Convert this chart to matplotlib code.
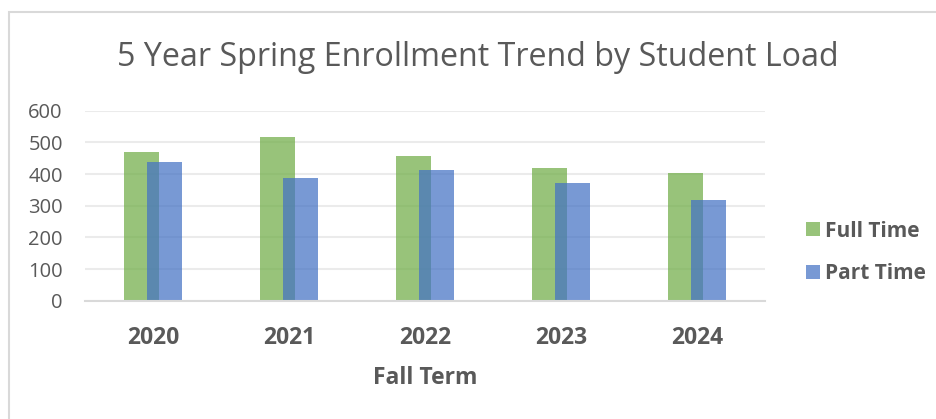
import numpy as np
import matplotlib
matplotlib.use("Agg")
import matplotlib.pyplot as plt
from matplotlib.patches import Rectangle, Patch

# data
years = ["2020", "2021", "2022", "2023", "2024"]
full_time = [469, 517, 458, 420, 403]
part_time = [437, 387, 412, 372, 319]

green = "#70AD47"
blue = "#4472C4"
text_col = "#595959"

plt.rcParams['font.family'] = ['Open Sans', 'DejaVu Sans']

fig = plt.figure(figsize=(9.36, 4.19), dpi=100)
ax = fig.add_axes([85/936, 1 - 300.7/419, 680/936, 190/419])

x = np.arange(len(years))
w = 0.257
off = 0.085
ax.bar(x - off, full_time, width=w, color=green, alpha=0.72, zorder=2)
ax.bar(x + off, part_time, width=w, color=blue, alpha=0.72, zorder=3)

ax.set_xlim(-0.5, len(years) - 0.5)
ax.set_ylim(0, 600)
ax.set_yticks(range(0, 601, 100))
ax.set_xticks(x)
ax.set_xticklabels(years, fontsize=16.5, fontweight='bold', color=text_col)
ax.tick_params(axis='y', labelsize=14.5, labelcolor=text_col, length=0, pad=16)
ax.tick_params(axis='x', length=0, pad=18)
ax.grid(axis='y', color='#EBEBEB', lw=1.5, zorder=0)
ax.set_axisbelow(True)
for s in ['top', 'right', 'left']:
    ax.spines[s].set_visible(False)
ax.spines['bottom'].set_color('#D9D9D9')
ax.spines['bottom'].set_linewidth(1.5)
ax.spines['bottom'].set_zorder(4)

ax.set_xlabel("Fall Term", fontsize=16.5, fontweight='bold', color=text_col, labelpad=12)

fig.text(478/936, 1 - 57/419, "5 Year Spring Enrollment Trend by Student Load",
         ha='center', va='center', fontsize=23.2, color=text_col)

handles = [Patch(facecolor=green, alpha=0.72, edgecolor='none'),
           Patch(facecolor=blue, alpha=0.72, edgecolor='none')]
leg = fig.legend(handles, ["Full Time", "Part Time"], loc='center left',
                 bbox_to_anchor=(806/936, 1 - 252.5/419), frameon=False,
                 borderpad=0, borderaxespad=0, handlelength=0.68, handleheight=0.68,
                 handletextpad=0.25, labelspacing=1.05,
                 prop={'size': 15, 'weight': 'bold'})
for t in leg.get_texts():
    t.set_color(text_col)

# chart outline
fig.patches.append(Rectangle((9/936, -0.05), 1.1, 1 - 12/419 + 0.05, fill=False,
                             edgecolor='#D9D9D9', lw=1.5, transform=fig.transFigure))

fig.savefig("out.png", dpi=100)
